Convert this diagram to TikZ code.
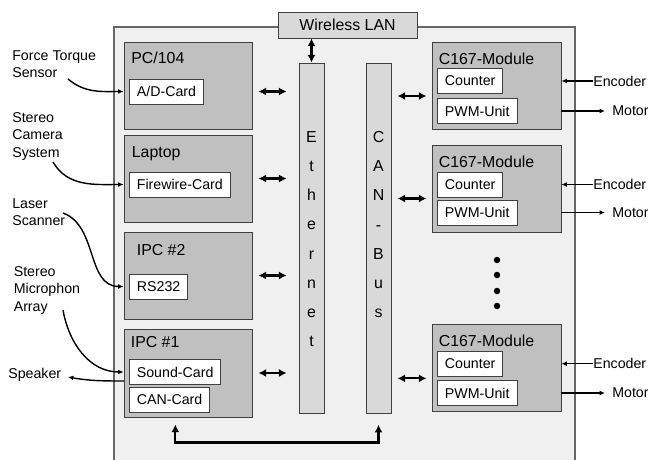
\documentclass[tikz,border=0pt]{standalone}
\usepackage{fontspec}
\setmainfont{Liberation Sans}
\usetikzlibrary{positioning,calc,arrows.meta}
\definecolor{outerfill}{HTML}{F0F0F0}
\definecolor{unitfill}{HTML}{C0C0C0}
\definecolor{barfill}{HTML}{D9D9D9}
\definecolor{edge}{HTML}{404040}
\begin{document}
\begin{tikzpicture}[x=0.025cm,y=-0.025cm,
  unit/.style={draw=edge, fill=unitfill, line width=0.6pt, minimum width=3.2cm, minimum height=2.175cm, inner sep=0},
  title/.style={anchor=north west, inner sep=0, font=\fontsize{11.3}{13.5}\selectfont},
  card/.style={draw=edge, fill=white, line width=0.6pt, anchor=west, inner xsep=5.3pt, inner ysep=0, minimum height=0.625cm, font=\fontsize{10.1}{12.6}\selectfont},
  bar/.style={draw=edge, fill=barfill, line width=0.6pt, minimum width=0.625cm, minimum height=8.75cm, inner sep=0},
  bartext/.style={inner sep=0, align=center, font=\fontsize{11.3}{20.8}\selectfont},
  side/.style={inner sep=0, align=left, font=\fontsize{10.1}{12.6}\selectfont},
  bus/.style={{Latex[length=5.5pt,width=5.8pt]}-{Latex[length=5.5pt,width=5.8pt]}, line width=1.6pt},
  sig/.style={-{Latex[length=3.8pt,width=3.4pt]}, line width=1pt}]
\useasboundingbox (0,0) rectangle (648,459);
\draw[draw=edge!80, fill=outerfill, line width=0.8pt] (114,462) -- (114,27) -- (575,27) -- (575,462);
\node[draw=edge, fill=barfill, line width=0.6pt, minimum width=3.475cm, minimum height=0.65cm, inner sep=0, font=\fontsize{11.3}{13.5}\selectfont] (wlan) at (347.5,25) {Wireless LAN};

\node[unit] (pc104) at (188,85.5) {};
\node[title] at ([shift={(7.5,10)}]pc104.north west) {PC/104};
\node[card] (adcard) at (129,91.5) {A/D-Card};
\node[unit] (laptop) at (188,178.5) {};
\node[title] at ([shift={(8,12)}]laptop.north west) {Laptop};
\node[card] (firewire) at (129,184.5) {Firewire-Card};
\node[unit] (ipc2) at (188,275.5) {};
\node[title] at ([shift={(13,13)}]ipc2.north west) {IPC \#2};
\node[card] (rs232) at (129,286.5) {RS232};
\node[unit, minimum height=2.2cm] (ipc1) at (188,373) {};
\node[title] at ([shift={(7,8)}]ipc1.north west) {IPC \#1};
\node[card] (sound) at (129,372) {Sound-Card};
\node[card] (cancard) at (129,399.5) {CAN-Card};

\node[bar] (ethernet) at (311.5,238) {};
\node[bartext, below=1.71cm of ethernet.north] {E\\t\\h\\e\\r\\n\\e\\t};
\node[bar] (canbus) at (378.5,238) {};
\node[bartext, below=1.71cm of canbus.north] {C\\A\\N\\-\\B\\u\\s};

\node[unit, minimum width=3.225cm] (mod1) at (496.5,85.5) {};
\node[title] at ([shift={(7,11)}]mod1.north west) {C167-Module};
\node[card] (counter1) at (437,81) {Counter};
\node[card] (pwm1) at (437,111) {PWM-Unit};
\node[unit, minimum width=3.225cm] (mod2) at (496.5,188.5) {};
\node[title] at ([shift={(7,11)}]mod2.north west) {C167-Module};
\node[card] (counter2) at (437,184.5) {Counter};
\node[card] (pwm2) at (437,212.5) {PWM-Unit};
\node[unit, minimum width=3.225cm] (mod3) at (496.5,367.5) {};
\node[title] at ([shift={(7,11)}]mod3.north west) {C167-Module};
\node[card] (counter3) at (437,363.7) {Counter};
\node[card] (pwm3) at (437,393) {PWM-Unit};

\foreach \y in {260,275,291,306}
  \fill (497,\y) circle (2.3pt);

\node[side, anchor=north west] (ftlabel) at (12,50) {Force Torque\\Sensor};
\node[side, anchor=north west] (camlabel) at (12,112) {Stereo\\Camera\\System};
\node[side, anchor=north west] (laserlabel) at (12,198) {Laser\\Scanner};
\node[side, anchor=north west] (miclabel) at (13.5,266) {Stereo\\Microphon\\Array};
\node[side, anchor=base west] (spklabel) at (8,378) {Speaker};
\coordinate (ftsrc) at (68,79);
\coordinate (camsrc) at (53,162);
\coordinate (lasersrc) at (63,213);
\coordinate (micsrc) at (63,310);
\coordinate (spkend) at (68,377);
\coordinate (spkout) at (124,381);

\foreach \i in {1,2,3} {
  \node[side, anchor=west] (enc\i) at (593,0 |- counter\i) {Encoder};
  \node[side, anchor=west] (mot\i) at (612,0 |- pwm\i) {Motor};
  \draw[sig] (enc\i.west) -- (mod\i.east |- counter\i);
  \draw[sig, shorten >=5pt] (mod\i.east |- pwm\i) -- (mot\i.west);
  \coordinate (gap\i) at ($(counter\i.south)!.5!(pwm\i.north)$);
  \draw[bus, shorten <=4.3pt, shorten >=3.6pt] (canbus.east |- gap\i) -- (mod\i.west |- gap\i);
}

\draw[sig] (ftsrc) to[out=-40,in=180] (pc104.west |- adcard);
\draw[sig] (camsrc) to[out=-60,in=180] (laptop.west |- firewire);
\draw[sig] (lasersrc) to[out=-20,in=180] (ipc2.west |- rs232);
\draw[sig] (micsrc) to[out=-80,in=180] (ipc1.west |- sound);
\draw[sig] (spkout) to[out=180,in=-10] (spkend);

\draw[bus] (wlan.south -| ethernet.north) -- (ethernet.north);
\draw[bus, shorten <=4.3pt, shorten >=8.5pt] (pc104.east |- adcard) -- (ethernet.west |- adcard);
\draw[bus, shorten <=4.3pt, shorten >=8.5pt] (laptop.east) -- (ethernet.west |- laptop.east);
\draw[bus, shorten <=4.3pt, shorten >=8.5pt] (ipc2.east) -- (ethernet.west |- ipc2.east);
\draw[bus, shorten <=4.3pt, shorten >=8.5pt] (ipc1.east) -- (ethernet.west |- ipc1.east);
\draw[bus, shorten <=5pt, shorten >=8pt] ([xshift=-9pt]ipc1.south) -- ++(0,25) -| (canbus.south);
\end{tikzpicture}
\end{document}
